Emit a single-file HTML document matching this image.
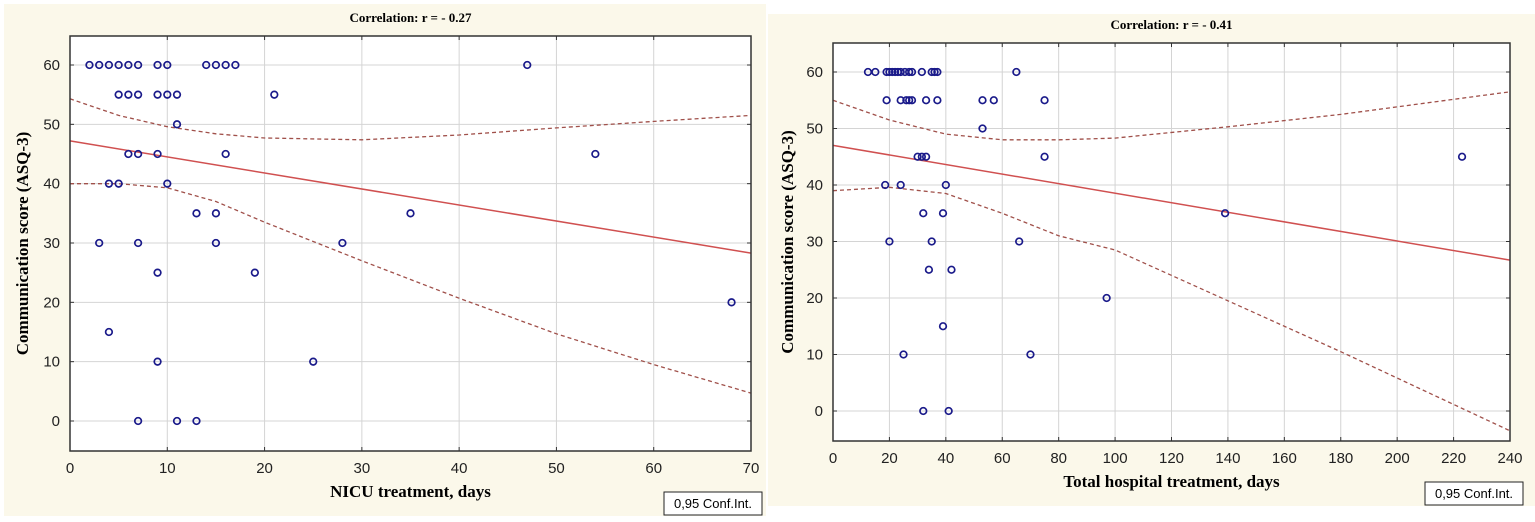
<!DOCTYPE html>
<html><head><meta charset="utf-8"><style>
html,body{margin:0;padding:0;background:#fff;}
svg{display:block}
</style></head><body>
<svg id="s" width="1535" height="522" xmlns="http://www.w3.org/2000/svg"></svg>
<script>
var s=document.getElementById('s');var h='';
h+='<rect x="4" y="4" width="762" height="512" fill="#fbf8ea"/>';
h+='<rect x="768" y="14" width="767" height="492" fill="#fbf8ea"/>';
function panel(o){
 var X=function(v){return o.x0+(v-o.xmin)/(o.xmax-o.xmin)*(o.x1-o.x0)};
 var Y=function(v){return o.yz+(v)*(o.y60-o.yz)/60};
 h+='<rect x="'+o.x0+'" y="'+o.top+'" width="'+(o.x1-o.x0)+'" height="'+(o.bot-o.top)+'" fill="#fff"/>';
 for(var v=o.xmin;v<=o.xmax;v+=o.xs){var px=X(v);
  if(v>o.xmin&&v<o.xmax)h+='<line x1="'+px+'" y1="'+o.top+'" x2="'+px+'" y2="'+o.bot+'" stroke="#d4d4d4"/>';
  h+='<line x1="'+px+'" y1="'+o.bot+'" x2="'+px+'" y2="'+(o.bot-4)+'" stroke="#333"/>';
  h+='<line x1="'+px+'" y1="'+o.top+'" x2="'+px+'" y2="'+(o.top+4)+'" stroke="#333"/>';
  h+='<text x="'+px+'" y="'+(o.bot+22)+'" font-family="Liberation Sans,sans-serif" font-size="15" text-anchor="middle" fill="#222">'+v+'</text>';}
 for(var v=0;v<=60;v+=10){var py=Y(v);
  h+='<line x1="'+o.x0+'" y1="'+py+'" x2="'+o.x1+'" y2="'+py+'" stroke="#d4d4d4"/>';
  h+='<line x1="'+o.x0+'" y1="'+py+'" x2="'+(o.x0+4)+'" y2="'+py+'" stroke="#333"/>';
  h+='<line x1="'+o.x1+'" y1="'+py+'" x2="'+(o.x1-4)+'" y2="'+py+'" stroke="#333"/>';
  h+='<text x="'+(o.x0-10)+'" y="'+(py+5)+'" font-family="Liberation Sans,sans-serif" font-size="15" text-anchor="end" fill="#222">'+v+'</text>';}
 function path(pts,st){var d='';pts.forEach(function(p,i){d+=(i?'L':'M')+X(p[0]).toFixed(1)+','+Y(p[1]).toFixed(1)});h+='<path d="'+d+'" fill="none" '+st+'/>';}
 path(o.up,'stroke="#a0504a" stroke-width="1.3" stroke-dasharray="4,3"');
 path(o.lo,'stroke="#a0504a" stroke-width="1.3" stroke-dasharray="4,3"');
 path(o.reg,'stroke="#d05050" stroke-width="1.5"');
 o.pts.forEach(function(r){r[1].forEach(function(x){h+='<circle cx="'+(X(x))+'" cy="'+Y(r[0])+'" r="3.3" fill="none" stroke="#1a1a8a" stroke-width="1.7"/>';});});
 h+='<rect x="'+o.x0+'" y="'+o.top+'" width="'+(o.x1-o.x0)+'" height="'+(o.bot-o.top)+'" fill="none" stroke="#333" stroke-width="1.5"/>';
 h+='<text x="'+((o.x0+o.x1)/2)+'" y="'+(o.top-14)+'" font-family="Liberation Serif,serif" font-weight="bold" font-size="13" text-anchor="middle">'+o.title+'</text>';
 h+='<text x="'+((o.x0+o.x1)/2)+'" y="'+(o.bot+46)+'" font-family="Liberation Serif,serif" font-weight="bold" font-size="17" text-anchor="middle">'+o.xl+'</text>';
 var cy=(o.top+o.bot)/2;
 h+='<text transform="translate('+(o.yl)+','+cy+') rotate(-90)" font-family="Liberation Serif,serif" font-weight="bold" font-size="17" text-anchor="middle">Communication score (ASQ-3)</text>';
 h+='<rect x="'+o.lx+'" y="'+o.ly+'" width="98" height="23" fill="#fff" stroke="#222"/><text x="'+(o.lx+49)+'" y="'+(o.ly+16)+'" font-family="Liberation Sans,sans-serif" font-size="13" text-anchor="middle">0,95 Conf.Int.</text>';
}
panel({x0:70,x1:751,top:36,bot:451,xmin:0,xmax:70,xs:10,yz:421,y60:65,yl:28,lx:664,ly:492,
title:'Correlation: r = - 0.27',xl:'NICU treatment, days',
reg:[[0,47.2],[70,28.3]],
up:[[0,54.3],[5,51.5],[10,49.6],[15,48.4],[20,47.7],[30,47.4],[40,48.2],[50,49.4],[60,50.5],[70,51.5]],
lo:[[0,40],[5,40],[10,39.3],[15,37],[20,33.5],[30,27],[40,20.7],[50,14.7],[60,9.5],[70,4.7]],
pts:[[60,[2,3,4,5,6,7,9,10,14,15,16,17,47]],[55,[5,6,7,9,10,11,21]],[50,[11]],[45,[6,7,9,16,54]],[40,[4,5,10]],[35,[13,15,35]],[30,[3,7,15,28]],[25,[9,19]],[20,[68]],[15,[4]],[10,[9,25]],[0,[7,11,13]]]});
panel({x0:833,x1:1510,top:43,bot:441,xmin:0,xmax:240,xs:20,yz:411,y60:72,yl:793,lx:1425,ly:482,
title:'Correlation: r = - 0.41',xl:'Total hospital treatment, days',
reg:[[0,47],[240,26.7]],
up:[[0,55],[20,51.5],[40,49],[60,48],[80,48],[100,48.3],[140,50.3],[180,52.5],[240,56.5]],
lo:[[0,39],[20,39.6],[40,38.5],[60,35],[80,31],[100,28.5],[140,19.5],[180,10.5],[240,-3.5]],
pts:[[60,[12.4,15,19,20,21,22,23,24,25.5,27,28,31.5,35,36,37,65]],[55,[19,24,26,27,28,33,37,53,57,75]],[50,[53]],[45,[30,31.5,33,75,223]],[40,[18.5,24,40]],[35,[32,39,139]],[30,[20,35,66]],[25,[34,42]],[20,[97]],[15,[39]],[10,[25,70]],[0,[32,41]]]});
s.innerHTML=h;
</script>
</body></html>
